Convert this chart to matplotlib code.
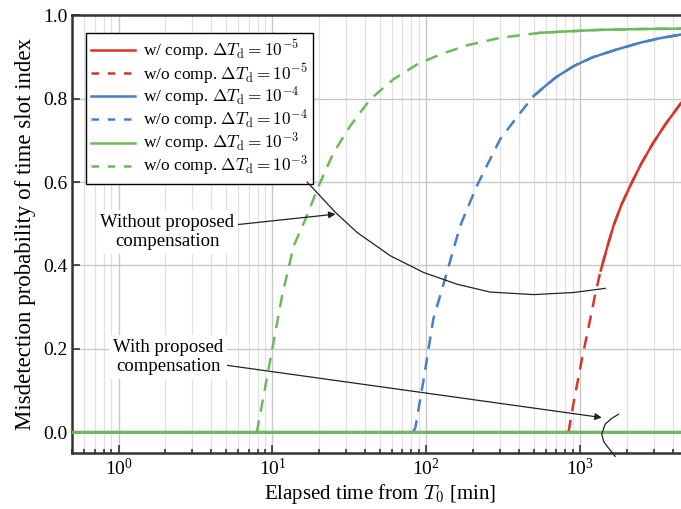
import numpy as np
import matplotlib as mpl
import matplotlib.pyplot as plt

mpl.rcParams['font.family'] = ['Liberation Serif', 'DejaVu Serif']
mpl.rcParams['mathtext.fontset'] = 'cm'

# w/o comp. curves
t_red = [839, 906, 1025, 1161, 1250, 1349, 1500, 1645, 1850, 2113, 2500, 2993, 3600, 4550, 5000]
p_red = [0.0, 0.071, 0.175, 0.271, 0.330, 0.383, 0.445, 0.495, 0.545, 0.591, 0.645, 0.695,
         0.740, 0.791, 0.805]
t_blue = [82, 84.9, 96.1, 111, 136, 166, 213, 302, 400, 497, 600, 700, 906, 1200, 1730,
          2500, 3300, 4550, 5000]
p_blue = [0.0, 0.011, 0.127, 0.271, 0.383, 0.495, 0.591, 0.703, 0.762, 0.806, 0.832, 0.852,
          0.878, 0.899, 0.918, 0.935, 0.945, 0.954, 0.956]
t_green = [7.8, 7.95, 9.7, 11.56, 13.75, 16.4, 20.0, 25.0, 32.1, 43.3, 61.4, 87, 123, 184,
           302, 550, 900, 1346, 2500, 4550, 5000]
p_green = [0.0, 0.003, 0.175, 0.327, 0.447, 0.511, 0.591, 0.671, 0.735, 0.799, 0.847, 0.882,
           0.906, 0.928, 0.946, 0.958, 0.962, 0.965, 0.967, 0.968, 0.968]

# time from which the compensated curve joins the uncompensated one
t_join = {'red': 1360, 'blue': 497, 'green': 520}

# sketch curves of the annotations
t_arc1 = [16.8, 25.7, 35.5, 58.4, 96.1, 158, 260, 498, 906, 1453]
p_arc1 = [0.600, 0.527, 0.479, 0.423, 0.383, 0.355, 0.336, 0.330, 0.335, 0.345]
t_arc2 = [1775, 1600, 1450, 1381, 1420, 1496, 1687]
p_arc2 = [0.043, 0.033, 0.019, -0.005, -0.022, -0.034, -0.058]

colors = {'red': '#d9342b', 'blue': '#4a7fc1', 'green': '#6cbb5a'}
labels = {'red': '10^{-5}', 'blue': '10^{-4}', 'green': '10^{-3}'}
curves = {'red': (t_red, p_red), 'blue': (t_blue, p_blue), 'green': (t_green, p_green)}

t_min, t_max = 0.5, 5000

fig = plt.figure(figsize=(6.81, 5.09), dpi=100)
ax = fig.add_axes([0.106, 0.110, 0.904, 0.860])

for key in ['red', 'blue', 'green']:
    tt, pp = np.array(curves[key][0]), np.array(curves[key][1])
    c = colors[key]
    # compensated: zero, then same as uncompensated after the join time
    m = tt >= t_join[key]
    p_join = np.interp(np.log(t_join[key]), np.log(tt), pp)
    t_w = np.concatenate([[t_min, t_max], [np.nan], [t_join[key]], tt[m]])
    p_w = np.concatenate([[0, 0], [np.nan], [p_join], pp[m]])
    ax.plot(tt, pp, '--', color=c, lw=1.8, dashes=(5, 3.5), zorder=3)
    ax.plot(t_w, p_w, '-', color=c, lw=1.8, zorder=4,
            label=r'w/ comp. $\Delta T_{\rm d} = %s$' % labels[key])
    ax.plot([], [], '--', color=c, lw=1.8, dashes=(3, 3.5),
            label=r'w/o comp. $\Delta T_{\rm d} = %s$' % labels[key])

# green zero line drawn last on top
ax.plot([t_min, t_max], [0, 0], '-', color=colors['green'], lw=1.8, zorder=5)

ax.set_xscale('log')
ax.set_xlim(t_min, t_max)
ax.set_ylim(-0.05, 1.0)
ax.set_yticks([0.0, 0.2, 0.4, 0.6, 0.8, 1.0])
ax.set_yticklabels(['0.0', '0.2', '0.4', '0.6', '0.8', '1.0'])

ax.grid(True, which='major', color='#c8c8c8', lw=1.0, zorder=0)
ax.grid(True, which='minor', axis='x', color='#e0e0e0', lw=0.9, zorder=0)
ax.tick_params(which='both', direction='in', labelsize=14, width=1.2, color='#333333')
ax.tick_params(which='major', length=6)
ax.tick_params(which='minor', length=3)
ax.tick_params(axis='y', which='minor', left=False)
for s in ax.spines.values():
    s.set_linewidth(1.8)
    s.set_color('#333333')

ax.set_xlabel(r'Elapsed time from $T_0$ [min]', fontsize=15, labelpad=2)
ax.set_ylabel('Misdetection probability of time slot index', fontsize=16.5, labelpad=5)

leg = ax.legend(loc='upper left', bbox_to_anchor=(0.017, 0.968), fontsize=12.5,
                fancybox=False, edgecolor='black', framealpha=1.0,
                handlelength=2.5, borderaxespad=0.2, labelspacing=-0.06,
                borderpad=0.3, handletextpad=0.45)
leg.get_frame().set_linewidth(1.0)

# annotations
ax.plot(t_arc1, p_arc1, '-', color='#222222', lw=0.9, zorder=6)
ax.plot(t_arc2, p_arc2, '-', color='#222222', lw=0.9, zorder=6, clip_on=False)

box = dict(boxstyle='square,pad=0.2', fc='white', ec='none')
ax.annotate('Without proposed\ncompensation', xy=(25.7, 0.523), xytext=(2.08, 0.48),
            ha='center', va='center', fontsize=13.5, linespacing=1.2, bbox=box,
            arrowprops=dict(arrowstyle='-|>', color='#222222', lw=0.9,
                            shrinkA=0, shrinkB=0, mutation_scale=10), zorder=7)
ax.annotate('With proposed\ncompensation', xy=(1381, 0.035), xytext=(2.1, 0.18),
            ha='center', va='center', fontsize=13.5, linespacing=1.2, bbox=box,
            arrowprops=dict(arrowstyle='-|>', color='#222222', lw=0.9,
                            shrinkA=0, shrinkB=0, mutation_scale=10), zorder=7)

fig.savefig('out.png', dpi=100)
